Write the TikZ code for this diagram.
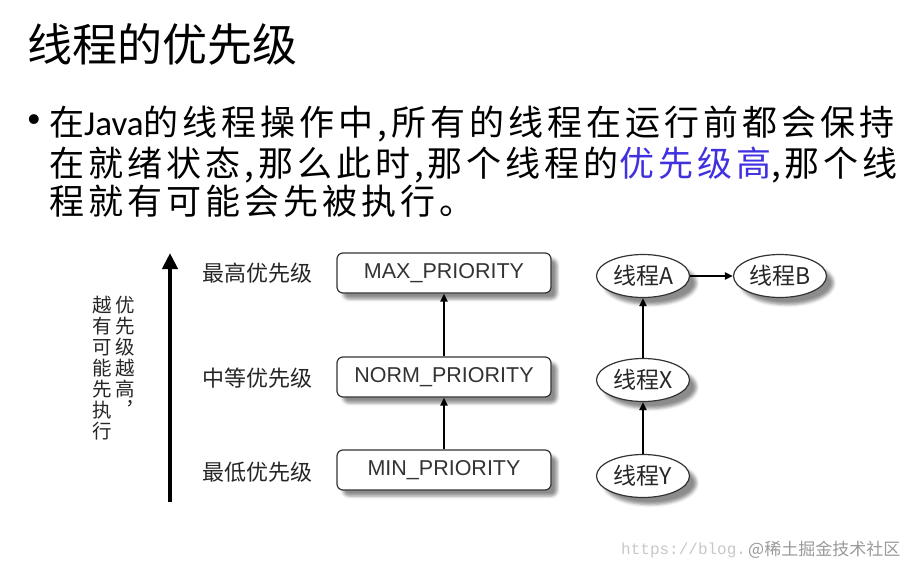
\documentclass[tikz,border=0pt]{standalone}
\usepackage{fontspec}
\setmainfont{Noto Sans CJK SC}
\newfontfamily\latin{Carlito}
\newfontfamily\arial{Liberation Sans}
\newfontfamily\mono{Liberation Mono}
\newfontfamily\bodyfont[LetterSpace=11.5]{Noto Sans CJK SC}
\usepackage{tikz}
\usetikzlibrary{arrows.meta,shapes.geometric,shadows.blur}
\definecolor{hiblue}{RGB}{64,48,224}
\newcommand{\setfs}[1]{\fontsize{#1}{#1}\selectfont}

\begin{document}
\begin{tikzpicture}[x=1pt, y=-1pt,
  prio/.style={draw=black!80, line width=1.2pt, fill=white, rounded corners=6pt,
    minimum width=214pt, minimum height=40pt, inner sep=0pt, text=black!80,
    font=\arial\setfs{21.5}, blur shadow={shadow xshift=6pt, shadow yshift=-6pt,
    shadow blur radius=3pt, shadow opacity=45}},
  thr/.style={ellipse, draw=black!80, line width=1.2pt, fill=white,
    minimum width=93pt, minimum height=43pt, inner sep=0pt, text=black!85,
    font=\setfs{23}, blur shadow={shadow xshift=7pt, shadow yshift=-7pt,
    shadow blur radius=3pt, shadow opacity=45}},
  lvl/.style={anchor=west, inner sep=0pt, text=black!85, font=\setfs{22}},
  vcol/.style={anchor=north, align=center, inner sep=0pt, text=black!85,
    font={\fontsize{19.5}{21}\selectfont}},
  tip/.style={line width=2pt, -{Triangle[width=7pt,length=8pt]}}]
\useasboundingbox (0,0) rectangle (913,565);

% title and bullet text
\node[anchor=base west, inner sep=0pt, font=\setfs{45}] (title) at (27,61) {线程的优先级};
\node[inner sep=0pt, font=\arial\setfs{36}] (dot) at (34,123) {•};
\node[anchor=base west, inner sep=0pt, font=\bodyfont\setfs{35}] (l1) at (49,135)
  {在{\latin Java}的线程操作中,所有的线程在运行前都会保持};
\node[anchor=base west, inner sep=0pt, font=\bodyfont\setfs{35}] (l2) at (49,176)
  {在就绪状态,那么此时,那个线程的{\color{hiblue}优先级高},那个线};
\node[anchor=base west, inner sep=0pt, font=\bodyfont\setfs{35}] (l3) at (49,214)
  {程就有可能会先被执行。};

% axis
\coordinate (ax0) at (170,502);
\coordinate (ax1) at (170,253);
\draw[line width=4pt, -{Triangle[width=15pt,length=16pt]}] (ax0) -- (ax1);
\node[vcol] (vr) at (125,296) {优\\先\\级\\越\\高\\︐};
\node[vcol] (vl) at (102,296) {越\\有\\可\\能\\先\\执\\行};

% levels
\node[lvl] (hi) at (202,273) {最高优先级};
\node[lvl] (mid) at (202,378) {中等优先级};
\node[lvl] (lo) at (202,472) {最低优先级};

\node[prio] (maxp) at (444,273) {MAX\_PRIORITY};
\node[prio] (normp) at (444,377) {NORM\_PRIORITY};
\node[prio] (minp) at (444,470) {MIN\_PRIORITY};
\draw[tip] (minp) -- (normp);
\draw[tip] (normp) -- (maxp);

% threads
\node[thr] (ta) at (643,276) {线程A};
\node[thr] (tb) at (780,276) {线程B};
\node[thr] (tx) at (643,380) {线程X};
\node[thr] (ty) at (643,476) {线程Y};
\draw[tip] (ty) -- (tx);
\draw[tip] (tx) -- (ta);
\draw[tip] (ta) -- (tb);

% watermark
\node[anchor=base west, inner sep=0pt, text=black!22, font=\mono\setfs{16}] (wm1) at (621,554) {https://blog.};
\node[anchor=base west, inner sep=0pt, text=black!40, font=\setfs{17}] (wm2) at (748,555) {@稀土掘金技术社区};
\end{tikzpicture}
\end{document}
